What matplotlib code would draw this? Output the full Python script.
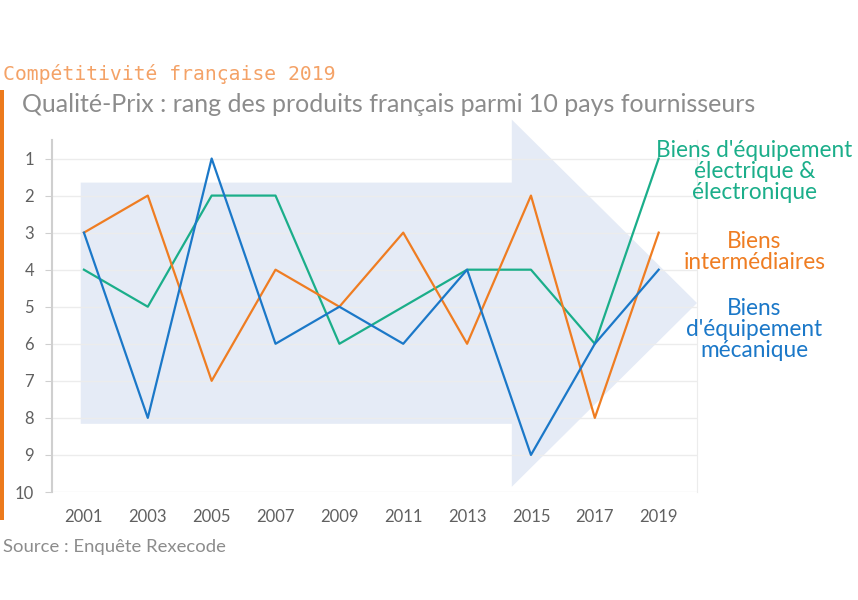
import numpy as np
import matplotlib.pyplot as plt
from matplotlib.patches import Polygon, Rectangle

# Données
annees = [2001, 2003, 2005, 2007, 2009, 2011, 2013, 2015, 2017, 2019]
rang_mecanique = [3, 8, 1, 6, 5, 6, 4, 9, 6, 4]
rang_intermediaires = [3, 2, 7, 4, 5, 3, 6, 2, 8, 3]
rang_electrique = [4, 5, 2, 2, 6, 5, 4, 4, 6, 1]
rangs = list(range(1, 11))

bleu = '#1b78c8'
orange = '#ef7d22'
vert = '#1bae8a'
gris = '#8c8c8c'

plt.rcParams['font.family'] = ['Lato', 'DejaVu Sans']

fig = plt.figure(figsize=(8.58, 6), dpi=100)
ax = fig.add_axes([52/858, 1-492/600, 645/858, 352/600])

# Flèche de fond
fleche = [(2000.9, 1.65), (2014.4, 1.65), (2014.4, -0.05), (2020.2, 4.9),
          (2014.4, 9.86), (2014.4, 8.16), (2000.9, 8.16)]
ax.add_patch(Polygon(fleche, closed=True, facecolor='#e5ebf6', edgecolor='none',
                     zorder=0, clip_on=False))

# Grille
for r in rangs:
    ax.axhline(r, color='#ececec', lw=1, zorder=1)

ax.plot(annees, rang_electrique, color=vert, lw=1.6, zorder=3)
ax.plot(annees, rang_intermediaires, color=orange, lw=1.6, zorder=3)
ax.plot(annees, rang_mecanique, color=bleu, lw=1.6, zorder=4)

ax.set_xlim(2000.0, 2020.2)
ax.set_ylim(10, 0.5)
ax.set_xticks(annees)
ax.set_yticks(rangs)
ax.tick_params(axis='x', length=0, pad=12, labelsize=12, labelcolor='#606060')
ax.tick_params(axis='y', length=5, color='#cfcfcf', pad=8, labelsize=12, labelcolor='#606060')
for s in ['top', 'bottom']:
    ax.spines[s].set_visible(False)
ax.spines['left'].set_color('#cfcfcf')
ax.spines['left'].set_linewidth(1.5)
ax.spines['right'].set_color('#ececec')
ax.set_facecolor('none')

# Etiquettes des séries
ax.text(2022.0, 1.35, "Biens d'équipement\nélectrique &\nélectronique", color=vert,
        fontsize=16.3, ha='center', va='center', linespacing=1.0, clip_on=False)
ax.text(2022.0, 3.51, "Biens\nintermédiaires", color=orange,
        fontsize=16.3, ha='center', va='center', linespacing=1.0, clip_on=False)
ax.text(2022.0, 5.62, "Biens\nd'équipement\nmécanique", color=bleu,
        fontsize=16.3, ha='center', va='center', linespacing=1.0, clip_on=False)

# Titres
fig.text(3/858, 1-74/600, 'Compétitivité française 2019', family='DejaVu Sans Mono',
         color='#f4a267', fontsize=14.2, va='center', ha='left')
fig.text(22/858, 1-104/600, 'Qualité-Prix : rang des produits français parmi 10 pays fournisseurs',
         color=gris, fontsize=18, va='center', ha='left')
fig.text(3/858, 1-547/600, 'Source : Enquête Rexecode', color=gris, fontsize=13.3,
         va='center', ha='left')

# Barre orange à gauche
fig.add_artist(Rectangle((0, 1-520/600), 4/858, 430/600, transform=fig.transFigure,
                         facecolor='#ec7a1c', edgecolor='none'))

plt.savefig('out.png', dpi=100)
